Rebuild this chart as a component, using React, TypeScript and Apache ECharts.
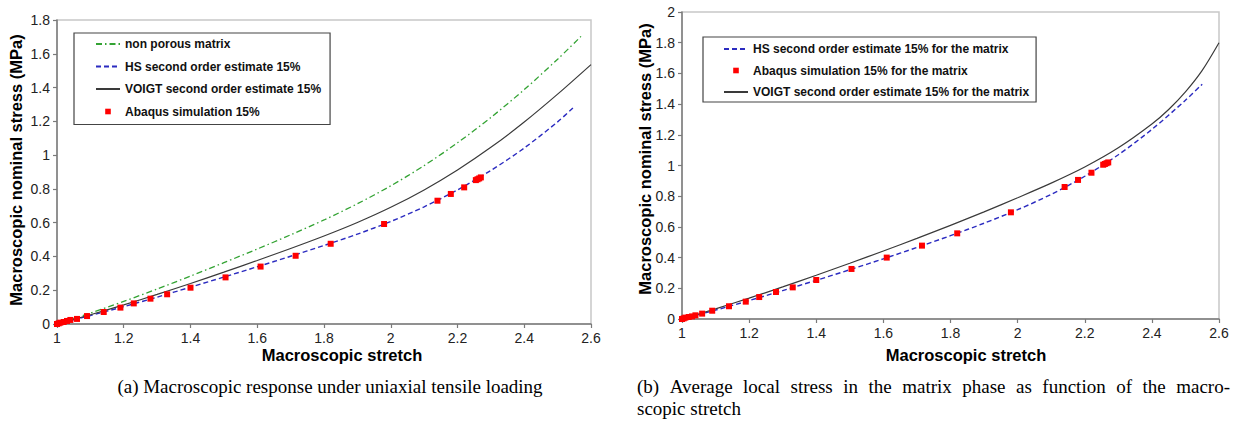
import React, { useEffect, useRef } from "react";
import * as echarts from "echarts";

// ---- Data: chart (a) macroscopic response ----
const nonPorousStretchA = [1, 1.1, 1.2, 1.3, 1.4, 1.5, 1.6, 1.7, 1.8, 1.9, 2.0, 2.1, 2.2, 2.3, 2.4, 2.5, 2.57];
const nonPorousStressA = [0, 0.065, 0.134, 0.207, 0.284, 0.363, 0.444, 0.528, 0.616, 0.712, 0.818, 0.938, 1.073, 1.223, 1.388, 1.568, 1.703];

const hsStretchA = [1, 1.1, 1.2, 1.3, 1.4, 1.5, 1.6, 1.7, 1.8, 1.9, 2.0, 2.1, 2.2, 2.3, 2.4, 2.5, 2.55];
const hsStressA = [0, 0.05, 0.103, 0.159, 0.218, 0.278, 0.339, 0.401, 0.465, 0.532, 0.607, 0.694, 0.794, 0.909, 1.042, 1.197, 1.287];

const voigtStretchA = [1, 1.1, 1.2, 1.3, 1.4, 1.5, 1.6, 1.7, 1.8, 1.9, 2.0, 2.1, 2.2, 2.3, 2.4, 2.5, 2.6];
const voigtStressA = [0, 0.055, 0.113, 0.175, 0.24, 0.307, 0.376, 0.447, 0.521, 0.601, 0.691, 0.794, 0.912, 1.046, 1.196, 1.361, 1.536];

const abaqusStretch = [1.0, 1.005, 1.01, 1.02, 1.03, 1.04, 1.06, 1.09, 1.14, 1.19, 1.23, 1.28, 1.33, 1.4, 1.505, 1.61, 1.715, 1.82, 1.98, 2.14, 2.18, 2.22, 2.255, 2.26, 2.265, 2.27];
const abaqusStressA = [0, 0.004, 0.008, 0.012, 0.018, 0.024, 0.03, 0.047, 0.071, 0.097, 0.122, 0.15, 0.176, 0.215, 0.276, 0.34, 0.404, 0.475, 0.592, 0.73, 0.77, 0.809, 0.852, 0.857, 0.862, 0.868];

// ---- Data: chart (b) average local stress in the matrix ----
const hsStretchB = [1, 1.1, 1.2, 1.3, 1.4, 1.5, 1.6, 1.7, 1.8, 1.9, 2.0, 2.1, 2.2, 2.3, 2.4, 2.5, 2.55];
const hsStressB = [0, 0.058, 0.12, 0.185, 0.252, 0.321, 0.392, 0.466, 0.543, 0.624, 0.712, 0.812, 0.93, 1.07, 1.235, 1.425, 1.53];

const voigtStretchB = [1, 1.1, 1.2, 1.3, 1.4, 1.5, 1.6, 1.7, 1.8, 1.9, 2.0, 2.1, 2.2, 2.3, 2.4, 2.45, 2.5, 2.55, 2.6];
const voigtStressB = [0, 0.066, 0.136, 0.209, 0.285, 0.363, 0.443, 0.525, 0.61, 0.698, 0.79, 0.885, 0.99, 1.115, 1.27, 1.365, 1.48, 1.62, 1.8];

const abaqusStressB = [0, 0.004, 0.009, 0.013, 0.017, 0.024, 0.035, 0.054, 0.083, 0.113, 0.143, 0.176, 0.206, 0.254, 0.326, 0.4, 0.478, 0.558, 0.695, 0.86, 0.906, 0.953, 1.005, 1.01, 1.015, 1.02];

// ---- Labels ----
const namesA = [
  "non porous matrix",
  "HS second order estimate 15%",
  "VOIGT second order estimate 15%",
  "Abaqus simulation 15%",
];
const namesB = [
  "HS second order estimate 15% for the matrix",
  "Abaqus simulation 15% for the matrix",
  "VOIGT second order estimate 15% for the matrix",
];
const xTitle = "Macroscopic stretch";
const yTitle = "Macroscopic nominal stress (MPa)";
const captionA = "(a) Macroscopic response under uniaxial tensile loading";
const captionB1 = "(b) Average local stress in the matrix phase as function of the macro-";
const captionB2 = "scopic stretch";

const zip = (xs: number[], ys: number[]) => xs.map((x, i) => [x, ys[i]]);

const SANS = '"Liberation Sans", Arial, sans-serif';
const SERIF = '"Liberation Serif", "Times New Roman", serif';
const CAPTION_FONT = `19px ${SERIF}`;

const GREEN = "#33a333";
const BLUE = "#2b2bc0";
const BLACK = "#3a3a3a";
const RED = "#ff0000";

function axisX(gridIndex: number) {
  return {
    type: "value",
    gridIndex,
    min: 1,
    max: 2.6,
    interval: 0.2,
    axisLine: { show: true, onZero: false, lineStyle: { color: "#7a7a7a", width: 1.5 } },
    axisTick: { show: true, length: 4, lineStyle: { color: "#7a7a7a", width: 1.2 } },
    axisLabel: { margin: 7, color: "#222", fontSize: 14, fontFamily: SANS },
    splitLine: { show: false },
  };
}
function axisY(gridIndex: number, max: number) {
  return {
    type: "value",
    gridIndex,
    min: 0,
    max,
    interval: 0.2,
    axisLine: { show: true, onZero: false, lineStyle: { color: "#7a7a7a", width: 1.5 } },
    axisTick: { show: true, length: 4, lineStyle: { color: "#7a7a7a", width: 1.2 } },
    axisLabel: { margin: 7, color: "#222", fontSize: 14, fontFamily: SANS },
    splitLine: { show: false },
  };
}

function lineSeries(name: string, idx: number, data: number[][], color: string, type: any, width: number) {
  return {
    name,
    type: "line",
    xAxisIndex: idx,
    yAxisIndex: idx,
    data,
    smooth: 0.3,
    symbol: "none",
    showSymbol: false,
    color,
    lineStyle: { color, width, type },
    z: 2,
  };
}
function pointSeries(name: string, idx: number, data: number[][]) {
  return {
    name,
    type: "line",
    xAxisIndex: idx,
    yAxisIndex: idx,
    data,
    symbol: "rect",
    symbolSize: 6,
    showSymbol: true,
    showAllSymbol: true,
    color: RED,
    itemStyle: { color: RED },
    lineStyle: { width: 0, opacity: 0 },
    z: 4,
  };
}

const legendBase = {
  orient: "vertical",
  itemWidth: 24,
  itemHeight: 7,
  borderColor: "#444",
  borderWidth: 1.2,
  backgroundColor: "#fff",
  textStyle: { fontFamily: SANS, fontSize: 12, fontWeight: "bold", color: "#111" },
  selectedMode: false,
};

const legendItem = (name: string, isPoint: boolean) =>
  isPoint ? { name } : { name, itemStyle: { opacity: 0 } };

function buildCaptionGraphics(): any[] {
  const els: any[] = [
    { type: "text", x: 330, y: 386, style: { text: captionA, font: CAPTION_FONT, align: "center", verticalAlign: "middle", fill: "#000" } },
    { type: "text", x: 637, y: 408, style: { text: captionB2, font: CAPTION_FONT, align: "left", verticalAlign: "middle", fill: "#000" } },
  ];
  // justified first line of caption (b), spread between x=637 and x=1230
  const words = captionB1.split(" ");
  let widths: number[] = words.map((w) => w.length * 8);
  try {
    const ctx = document.createElement("canvas").getContext("2d");
    if (ctx) {
      ctx.font = CAPTION_FONT;
      widths = words.map((w) => ctx.measureText(w).width);
    }
  } catch (e) {}
  const left = 637;
  const right = 1230;
  const total = widths.reduce((a, b) => a + b, 0);
  const gap = (right - left - total) / (words.length - 1);
  let x = left;
  words.forEach((w, i) => {
    els.push({ type: "text", x, y: 386, style: { text: w, font: CAPTION_FONT, align: "left", verticalAlign: "middle", fill: "#000" } });
    x += widths[i] + gap;
  });
  return els;
}

function buildOption(): any {
  return {
    animation: false,
    backgroundColor: "#fff",
    grid: [
      { left: 57, top: 20, width: 534, height: 304, show: true, borderColor: "#c8c8c8", borderWidth: 1.5, backgroundColor: "transparent" },
      { left: 682, top: 12, width: 537, height: 307, show: true, borderColor: "#c8c8c8", borderWidth: 1.5, backgroundColor: "transparent" },
    ],
    xAxis: [axisX(0), axisX(1)],
    yAxis: [axisY(0, 1.8), axisY(1, 2)],
    legend: [
      {
        ...legendBase,
        data: namesA.map((n, i) => legendItem(n, i === 3)),
        left: 74,
        top: 33,
        padding: [5, 9, 7, 21],
        itemGap: 10.5,
      },
      {
        ...legendBase,
        data: namesB.map((n, i) => legendItem(n, i === 1)),
        left: 703,
        top: 37,
        padding: [6, 7, 4, 20],
        itemGap: 9.5,
      },
    ],
    series: [
      lineSeries(namesA[0], 0, zip(nonPorousStretchA, nonPorousStressA), GREEN, [6, 3, 1.5, 3], 1.3),
      lineSeries(namesA[1], 0, zip(hsStretchA, hsStressA), BLUE, [5, 3], 1.4),
      lineSeries(namesA[2], 0, zip(voigtStretchA, voigtStressA), BLACK, "solid", 1.2),
      pointSeries(namesA[3], 0, zip(abaqusStretch, abaqusStressA)),
      lineSeries(namesB[0], 1, zip(hsStretchB, hsStressB), BLUE, [5, 3], 1.4),
      pointSeries(namesB[1], 1, zip(abaqusStretch, abaqusStressB)),
      lineSeries(namesB[2], 1, zip(voigtStretchB, voigtStressB), BLACK, "solid", 1.2),
    ],
    graphic: [
      { type: "text", x: 16, y: 170, rotation: Math.PI / 2, style: { text: yTitle, font: `bold 16.5px ${SANS}`, align: "center", verticalAlign: "middle", fill: "#000" } },
      { type: "text", x: 645, y: 159, rotation: Math.PI / 2, style: { text: yTitle, font: `bold 16.5px ${SANS}`, align: "center", verticalAlign: "middle", fill: "#000" } },
      { type: "text", x: 342, y: 355, style: { text: xTitle, font: `bold 16.5px ${SANS}`, align: "center", verticalAlign: "middle", fill: "#000" } },
      { type: "text", x: 966, y: 355, style: { text: xTitle, font: `bold 16.5px ${SANS}`, align: "center", verticalAlign: "middle", fill: "#000" } },
      ...buildCaptionGraphics(),
    ],
  };
}

export default function App() {
  const ref = useRef<HTMLDivElement>(null);
  useEffect(() => {
    if (!ref.current) return;
    const chart = echarts.init(ref.current, null, { renderer: "svg" });
    chart.setOption(buildOption());
    return () => chart.dispose();
  }, []);
  return (
    <div
      ref={ref}
      style={{ position: "absolute", left: 0, top: 0, width: 1242, height: 425, background: "#fff" }}
    />
  );
}
